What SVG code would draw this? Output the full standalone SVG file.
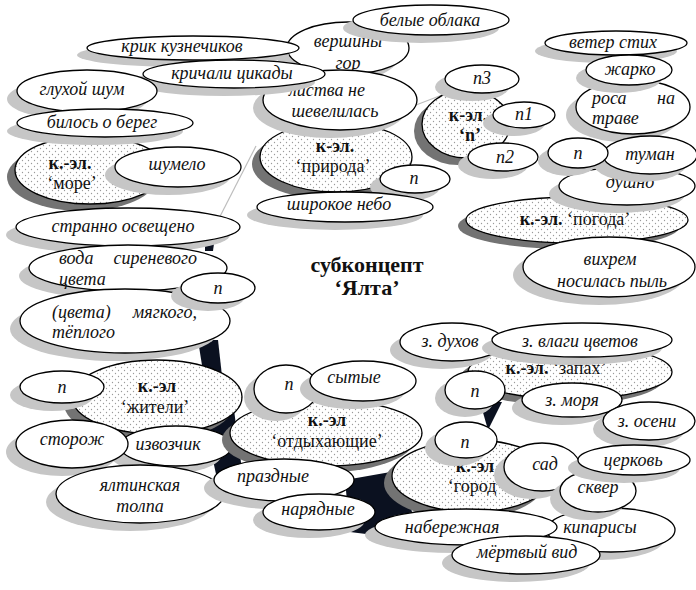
<svg xmlns="http://www.w3.org/2000/svg" width="696" height="590" viewBox="0 0 696 590">
<defs>
<pattern id="dots" width="6" height="6" patternUnits="userSpaceOnUse">
<rect width="6" height="6" fill="#fff"/>
<circle cx="1.5" cy="1.5" r="0.65" fill="#9a9a9a"/>
<circle cx="4.5" cy="4.5" r="0.65" fill="#9a9a9a"/>
</pattern>
</defs>
<style>
.w{fill:#fff;stroke:#000;stroke-width:1.3}
.d{fill:url(#dots);stroke:#000;stroke-width:1.3}
.sw{fill:#c6c6c6}
.sd{fill:#737373}
.t{font-family:"Liberation Serif","Times New Roman",serif;font-size:18px;font-style:italic;fill:#111;text-anchor:middle}
.tl{font-family:"Liberation Serif","Times New Roman",serif;font-size:18px;font-style:italic;fill:#111}
.k{font-family:"Liberation Serif","Times New Roman",serif;font-size:18px;fill:#111;text-anchor:middle}
.b{font-weight:bold}
.blob{fill:#0b1120}
.ln{stroke:#bdbdbd;stroke-width:1.2;fill:none}
.title{font-family:"Liberation Serif","Times New Roman",serif;font-size:22px;font-weight:bold;fill:#111;text-anchor:middle}
</style>
<rect width="696" height="590" fill="#fff"/>

<g id="connectors">
<polygon class="blob" points="198,340 218,340 222,376 204,378"/>
<polygon class="blob" points="204,420 234,410 242,470 216,474"/>
<polygon class="blob" points="345,480 402,470 412,512 382,536 350,532"/>
<polygon class="blob" points="480,402 502,402 488,430"/>
<polygon class="blob" points="205,236 215,236 213,251 205,251"/>
<line class="ln" x1="256" y1="146" x2="210" y2="236"/>
<line class="ln" x1="416" y1="105" x2="442" y2="95"/>
</g>

<g id="title">
<text class="title" x="367" y="272">субконцепт</text>
<text class="title" x="367" y="295">‘Ялта’</text>
</g>

<g id="n-priroda">
<ellipse class="sd" cx="328" cy="164" rx="76" ry="35"/>
<ellipse class="d" cx="336" cy="157" rx="76" ry="35"/>
<text class="k b" x="335" y="152">к-эл.</text>
<text class="k" x="333" y="172">‘природа’</text>
</g>
<g id="n-vershiny">
<ellipse class="sw" cx="338" cy="56" rx="61" ry="26"/>
<ellipse class="w" cx="348" cy="48" rx="61" ry="26"/>
<text class="t" x="348" y="47">вершины</text>
<text class="t" x="348" y="69">гор</text>
</g>
<g id="n-belye">
<ellipse class="sw" cx="421" cy="28" rx="78" ry="15"/>
<ellipse class="w" cx="431" cy="20" rx="78" ry="15"/>
<text class="t" x="430" y="26">белые облака</text>
</g>
<g id="n-krik">
<ellipse class="sw" cx="183" cy="55" rx="106" ry="12"/>
<ellipse class="w" cx="193" cy="48" rx="106" ry="12"/>
<text class="t" x="182" y="52">крик кузнечиков</text>
</g>
<g id="n-listva">
<ellipse class="sw" cx="330" cy="108" rx="77" ry="30"/>
<ellipse class="w" cx="340" cy="100" rx="77" ry="30"/>
<text class="t" x="327" y="96">листва не</text>
<text class="t" x="335" y="117">шевелилась</text>
</g>
<g id="n-krichali">
<ellipse class="sw" cx="224" cy="82" rx="91" ry="14"/>
<ellipse class="w" cx="234" cy="74" rx="91" ry="14"/>
<text class="t" x="232" y="79">кричали цикады</text>
</g>
<g id="n-priroda-n">
<ellipse class="sw" cx="405" cy="187" rx="35" ry="14"/>
<ellipse class="w" cx="415" cy="179" rx="35" ry="14"/>
<text class="t" x="414" y="184">n</text>
</g>
<g id="n-shirokoe">
<ellipse class="sw" cx="335" cy="215" rx="88" ry="15"/>
<ellipse class="w" cx="345" cy="207" rx="88" ry="15"/>
<text class="t" x="339" y="210">широкое небо</text>
</g>

<g id="n-n">
<ellipse class="sd" cx="458" cy="131" rx="44" ry="34"/>
<ellipse class="d" cx="466" cy="124" rx="44" ry="34"/>
<text class="k b" x="468" y="121">к-эл.</text>
<text class="k b" x="470" y="141">‘n’</text>
</g>
<g id="n-n3">
<ellipse class="sw" cx="472" cy="87" rx="37" ry="14"/>
<ellipse class="w" cx="482" cy="79" rx="37" ry="14"/>
<text class="t" x="482" y="84">n3</text>
</g>
<g id="n-n1">
<ellipse class="sw" cx="514" cy="123" rx="31" ry="13"/>
<ellipse class="w" cx="524" cy="115" rx="31" ry="13"/>
<text class="t" x="524" y="120">n1</text>
</g>
<g id="n-n2">
<ellipse class="sw" cx="493" cy="165" rx="35" ry="14"/>
<ellipse class="w" cx="503" cy="157" rx="35" ry="14"/>
<text class="t" x="505" y="163">n2</text>
</g>

<g id="n-veter">
<ellipse class="sw" cx="606" cy="51" rx="71" ry="12"/>
<ellipse class="w" cx="616" cy="43" rx="71" ry="12"/>
<text class="t" x="613" y="48">ветер стих</text>
</g>
<g id="n-rosa">
<ellipse class="sw" cx="623" cy="115" rx="57" ry="27"/>
<ellipse class="w" cx="633" cy="107" rx="57" ry="27"/>
<text class="tl" x="592" y="104">роса</text>
<text class="tl" x="675" y="104" text-anchor="end">на</text>
<text class="tl" x="592" y="124">траве</text>
</g>
<g id="n-zharko">
<ellipse class="sw" cx="619" cy="78" rx="43" ry="15"/>
<ellipse class="w" cx="629" cy="70" rx="43" ry="15"/>
<text class="t" x="630" y="75">жарко</text>
</g>
<g id="n-pogoda">
<ellipse class="sd" cx="569" cy="226" rx="111" ry="23"/>
<ellipse class="d" cx="577" cy="220" rx="111" ry="23"/>
<text class="k" x="575" y="225"><tspan class="b">к.-эл.</tspan> ‘погода’</text>
</g>
<g id="n-dushno">
<ellipse class="sw" cx="617" cy="194" rx="68" ry="19"/>
<ellipse class="w" cx="627" cy="186" rx="68" ry="19"/>
<text class="t" x="630" y="188">душно</text>
</g>
<g id="n-tuman">
<ellipse class="sw" cx="640" cy="163" rx="47" ry="19"/>
<ellipse class="w" cx="650" cy="155" rx="47" ry="19"/>
<text class="t" x="650" y="160">туман</text>
</g>
<g id="n-tuman-n">
<ellipse class="sw" cx="568" cy="161" rx="30" ry="15"/>
<ellipse class="w" cx="578" cy="153" rx="30" ry="15"/>
<text class="t" x="578" y="159">n</text>
</g>
<g id="n-vihrem">
<ellipse class="sw" cx="599" cy="275" rx="86" ry="30"/>
<ellipse class="w" cx="609" cy="267" rx="86" ry="30"/>
<text class="t" x="610" y="265">вихрем</text>
<text class="t" x="612" y="287">носилась пыль</text>
</g>

<g id="n-more">
<ellipse class="sd" cx="82" cy="177" rx="75" ry="34"/>
<ellipse class="d" cx="90" cy="170" rx="75" ry="34"/>
<text class="k b" x="70" y="169">к.-эл.</text>
<text class="k" x="72" y="189">‘море’</text>
</g>
<g id="n-gluhoy">
<ellipse class="sw" cx="77" cy="99" rx="70" ry="21"/>
<ellipse class="w" cx="87" cy="91" rx="70" ry="21"/>
<text class="t" x="82" y="95">глухой шум</text>
</g>
<g id="n-bilos">
<ellipse class="sw" cx="95" cy="131" rx="88" ry="14"/>
<ellipse class="w" cx="105" cy="123" rx="88" ry="14"/>
<text class="t" x="102" y="128">билось о берег</text>
</g>
<g id="n-shumelo">
<ellipse class="sw" cx="168" cy="175" rx="63" ry="20"/>
<ellipse class="w" cx="178" cy="167" rx="63" ry="20"/>
<text class="t" x="177" y="170">шумело</text>
</g>
<g id="n-stranno">
<ellipse class="sw" cx="118" cy="235" rx="112" ry="19"/>
<ellipse class="w" cx="128" cy="227" rx="112" ry="19"/>
<text class="t" x="123" y="232">странно освещено</text>
</g>
<g id="n-voda">
<ellipse class="sw" cx="118" cy="276" rx="99" ry="23"/>
<ellipse class="w" cx="128" cy="268" rx="99" ry="23"/>
<text class="tl" x="59" y="264">вода</text>
<text class="tl" x="197" y="264" text-anchor="end">сиреневого</text>
<text class="tl" x="59" y="285">цвета</text>
</g>
<g id="n-cveta">
<ellipse class="sw" cx="115" cy="329" rx="105" ry="32"/>
<ellipse class="w" cx="125" cy="321" rx="105" ry="32"/>
<text class="tl" x="52" y="318">(цвета)</text>
<text class="tl" x="197" y="318" text-anchor="end">мягкого,</text>
<text class="tl" x="52" y="338">тёплого</text>
</g>
<g id="n-left-n">
<ellipse class="sw" cx="208" cy="296" rx="37" ry="15"/>
<ellipse class="w" cx="218" cy="288" rx="37" ry="15"/>
<text class="t" x="218" y="294">n</text>
</g>

<g id="n-zhiteli">
<ellipse class="sd" cx="149" cy="404" rx="85" ry="37"/>
<ellipse class="d" cx="157" cy="397" rx="85" ry="37"/>
<text class="k b" x="157" y="392">к.-эл</text>
<text class="k" x="155" y="413">‘жители’</text>
</g>
<g id="n-zhiteli-n">
<ellipse class="sw" cx="52" cy="395" rx="42" ry="16"/>
<ellipse class="w" cx="62" cy="387" rx="42" ry="16"/>
<text class="t" x="62" y="393">n</text>
</g>
<g id="n-izvozchik">
<ellipse class="sw" cx="166" cy="454" rx="56" ry="20"/>
<ellipse class="w" cx="176" cy="446" rx="56" ry="20"/>
<text class="t" x="168" y="450">извозчик</text>
</g>
<g id="n-storozh">
<ellipse class="sw" cx="62" cy="452" rx="56" ry="24"/>
<ellipse class="w" cx="72" cy="444" rx="56" ry="24"/>
<text class="t" x="72" y="445">сторож</text>
</g>
<g id="n-yaltinskaya">
<ellipse class="sw" cx="130" cy="502" rx="84" ry="29"/>
<ellipse class="w" cx="140" cy="494" rx="84" ry="29"/>
<text class="t" x="140" y="491">ялтинская</text>
<text class="t" x="140" y="512">толпа</text>
</g>

<g id="n-otdyh">
<ellipse class="sd" cx="318" cy="440" rx="96" ry="33"/>
<ellipse class="d" cx="326" cy="433" rx="96" ry="33"/>
<text class="k b" x="327" y="426">к.-эл</text>
<text class="k" x="327" y="447">‘отдыхающие’</text>
</g>
<g id="n-otdyh-n">
<ellipse class="sw" cx="276" cy="397" rx="32" ry="24"/>
<ellipse class="w" cx="286" cy="389" rx="32" ry="24"/>
<text class="t" x="289" y="390">n</text>
</g>
<g id="n-sytye">
<ellipse class="sw" cx="353" cy="389" rx="53" ry="20"/>
<ellipse class="w" cx="363" cy="381" rx="53" ry="20"/>
<text class="t" x="354" y="383">сытые</text>
</g>
<g id="n-prazdnye">
<ellipse class="sw" cx="274" cy="488" rx="70" ry="21"/>
<ellipse class="w" cx="284" cy="480" rx="70" ry="21"/>
<text class="t" x="273" y="482">праздные</text>
</g>
<g id="n-naryadnye">
<ellipse class="sw" cx="309" cy="520" rx="56" ry="18"/>
<ellipse class="w" cx="319" cy="512" rx="56" ry="18"/>
<text class="t" x="318" y="515">нарядные</text>
</g>

<g id="n-zapah">
<ellipse class="sd" cx="562" cy="378" rx="102" ry="27"/>
<ellipse class="d" cx="570" cy="372" rx="102" ry="27"/>
<text class="k" x="556" y="374"><tspan class="b">к.-эл.</tspan> ‘запах’</text>
</g>
<g id="n-duhov">
<ellipse class="sw" cx="442" cy="350" rx="52" ry="19"/>
<ellipse class="w" cx="452" cy="342" rx="52" ry="19"/>
<text class="t" x="450" y="347">з. духов</text>
</g>
<g id="n-vlagi">
<ellipse class="sw" cx="572" cy="348" rx="90" ry="17"/>
<ellipse class="w" cx="582" cy="340" rx="90" ry="17"/>
<text class="t" x="580" y="347">з. влаги цветов</text>
</g>
<g id="n-zapah-n">
<ellipse class="sw" cx="465" cy="398" rx="30" ry="19"/>
<ellipse class="w" cx="475" cy="390" rx="30" ry="19"/>
<text class="t" x="475" y="397">n</text>
</g>
<g id="n-morya">
<ellipse class="sw" cx="562" cy="408" rx="50" ry="17"/>
<ellipse class="w" cx="572" cy="400" rx="50" ry="17"/>
<text class="t" x="572" y="406">з. моря</text>
</g>
<g id="n-oseni">
<ellipse class="sw" cx="639" cy="429" rx="46" ry="19"/>
<ellipse class="w" cx="649" cy="421" rx="46" ry="19"/>
<text class="t" x="647" y="427">з. осени</text>
</g>

<g id="n-gorod">
<ellipse class="sd" cx="464" cy="483" rx="80" ry="36"/>
<ellipse class="d" cx="472" cy="476" rx="80" ry="36"/>
<text class="k b" x="475" y="472">к.-эл</text>
<text class="k" x="475" y="492">‘город’</text>
</g>
<g id="n-kiparisy">
<ellipse class="sw" cx="601" cy="538" rx="64" ry="22"/>
<ellipse class="w" cx="611" cy="530" rx="64" ry="22"/>
<text class="t" x="600" y="533">кипарисы</text>
</g>
<g id="n-gorod-n">
<ellipse class="sw" cx="456" cy="448" rx="31" ry="18"/>
<ellipse class="w" cx="466" cy="440" rx="31" ry="18"/>
<text class="t" x="465" y="448">n</text>
</g>
<g id="n-sad">
<ellipse class="sw" cx="532" cy="475" rx="38" ry="24"/>
<ellipse class="w" cx="542" cy="467" rx="38" ry="24"/>
<text class="t" x="545" y="470">сад</text>
</g>
<g id="n-skver">
<ellipse class="sw" cx="588" cy="499" rx="38" ry="21"/>
<ellipse class="w" cx="598" cy="491" rx="38" ry="21"/>
<text class="t" x="598" y="493">сквер</text>
</g>
<g id="n-cerkov">
<ellipse class="sw" cx="624" cy="468" rx="56" ry="15"/>
<ellipse class="w" cx="634" cy="460" rx="56" ry="15"/>
<text class="t" x="633" y="466">церковь</text>
</g>
<g id="n-naberezhnaya">
<ellipse class="sw" cx="456" cy="535" rx="91" ry="18"/>
<ellipse class="w" cx="466" cy="527" rx="91" ry="18"/>
<text class="t" x="452" y="533">набережная</text>
</g>
<g id="n-mertvyy">
<ellipse class="sw" cx="516" cy="563" rx="74" ry="19"/>
<ellipse class="w" cx="526" cy="555" rx="74" ry="19"/>
<text class="t" x="527" y="558">мёртвый вид</text>
</g>
</svg>
